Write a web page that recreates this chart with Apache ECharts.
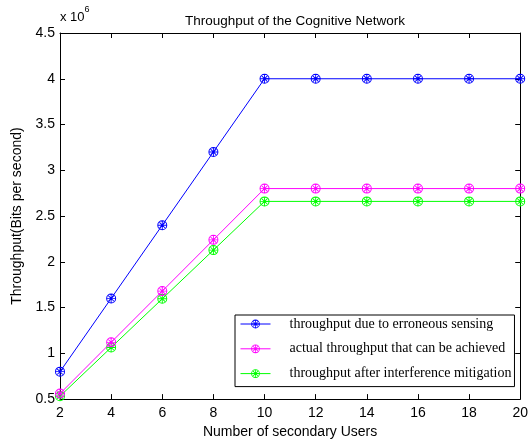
<!DOCTYPE html>
<html><head><meta charset="utf-8">
<script src="https://cdn.jsdelivr.net/npm/echarts@6/dist/echarts.min.js"></script>
<style>html,body{margin:0;padding:0;background:#fff}#c{width:531px;height:444px}</style>
</head><body><div id="c"></div>
<script>
var users = [2, 4, 6, 8, 10, 12, 14, 16, 18, 20];
var erroneous = [0.8e6, 1.6e6, 2.4e6, 3.2e6, 4.0e6, 4.0e6, 4.0e6, 4.0e6, 4.0e6, 4.0e6];
var actual = [0.56e6, 1.12e6, 1.68e6, 2.24e6, 2.8e6, 2.8e6, 2.8e6, 2.8e6, 2.8e6, 2.8e6];
var mitigated = [0.532e6, 1.064e6, 1.596e6, 2.128e6, 2.66e6, 2.66e6, 2.66e6, 2.66e6, 2.66e6, 2.66e6];
var seriesNames = ['throughput due to erroneous sensing', 'actual throughput that can be achieved', 'throughput after interference mitigation'];
var seriesColors = ['#0000ff', '#ff00ff', '#00ff00'];
var yTicks = [0.5e6, 4.5e6, 0.5e6];

var marker = 'path://M-10,0 A10,10 0 1,0 10,0 A10,10 0 1,0 -10,0 Z M-8,0 A8,8 0 1,1 8,0 A8,8 0 1,1 -8,0 Z ' +
  'M-8,-0.9 H8 V0.9 H-8 Z M-0.9,-8 H0.9 V8 H-0.9 Z ' +
  'M-5.02,-6.29 L6.29,5.02 L5.02,6.29 L-6.29,-5.02 Z ' +
  'M-6.29,5.02 L5.02,-6.29 L6.29,-5.02 L-5.02,6.29 Z';

function pairs(vals) { return users.map(function (u, i) { return [u, vals[i]]; }); }
var allVals = [erroneous, actual, mitigated];
var font = 'Liberation Sans, Arial, sans-serif';

var chart = echarts.init(document.getElementById('c'), null, {renderer: 'canvas'});
chart.setOption({
  animation: false,
  backgroundColor: '#fff',
  title: {
    text: 'Throughput of the Cognitive Network', left: 290, textAlign: 'center', top: 9,
    textStyle: {fontFamily: font, fontSize: 13.5, fontWeight: 'normal', color: '#000'}
  },
  graphic: [{
    type: 'text', left: 60, top: 5,
    style: {
      text: '{a|x 10}{b|6}', fill: '#000',
      rich: {a: {fontFamily: font, fontSize: 13, fill: '#000', padding: [6, 0, 0, 0]}, b: {fontFamily: font, fontSize: 9, fill: '#000', verticalAlign: 'top'}}
    }
  }],
  grid: {left: 60, right: 9, top: 33, bottom: 41, containLabel: false},
  legend: {
    orient: 'vertical', left: 235, top: 315,
    backgroundColor: '#fff', borderColor: '#000', borderWidth: 1, borderRadius: 0,
    padding: [2, 3, 6, 5], itemWidth: 30, itemHeight: 11, itemGap: 10.8,
    lineStyle: {width: 1},
    data: seriesNames,
    textStyle: {fontFamily: 'Liberation Serif, Times New Roman, serif', fontSize: 14, color: '#000', padding: [0, 0, 0, 14]}
  },
  xAxis: [{
    type: 'value', min: users[0], max: users[users.length - 1], interval: 2,
    name: 'Number of secondary Users', nameLocation: 'middle', nameGap: 25,
    nameTextStyle: {fontFamily: font, fontSize: 14, color: '#000'},
    axisLine: {lineStyle: {color: '#000', width: 1}},
    axisTick: {inside: true, length: 5, lineStyle: {color: '#000'}},
    axisLabel: {fontFamily: font, fontSize: 14, color: '#000', margin: 7},
    splitLine: {show: false}
  }, {
    type: 'value', position: 'top', min: users[0], max: users[users.length - 1], interval: 2,
    axisLine: {show: true, lineStyle: {color: '#000', width: 1}},
    axisTick: {inside: true, length: 5, lineStyle: {color: '#000'}},
    axisLabel: {show: false}, splitLine: {show: false}
  }],
  yAxis: [{
    type: 'value', min: yTicks[0], max: yTicks[1], interval: yTicks[2],
    name: 'Throughput(Bits per second)', nameLocation: 'middle', nameGap: 35,
    nameTextStyle: {fontFamily: font, fontSize: 14, color: '#000'},
    axisLine: {show: true, lineStyle: {color: '#000', width: 1}},
    axisTick: {show: true, inside: true, length: 5, lineStyle: {color: '#000'}},
    axisLabel: {fontFamily: font, fontSize: 14, color: '#000', margin: 5, formatter: function (v) { return String(+(v / 1e6).toFixed(2)); }},
    splitLine: {show: false}
  }, {
    type: 'value', position: 'right', min: yTicks[0], max: yTicks[1], interval: yTicks[2],
    axisLine: {show: true, lineStyle: {color: '#000', width: 1}},
    axisTick: {show: true, inside: true, length: 5, lineStyle: {color: '#000'}},
    axisLabel: {show: false}, splitLine: {show: false}
  }],
  series: seriesNames.map(function (n, i) {
    return {
      name: n, type: 'line', data: pairs(allVals[i]),
      symbol: marker, symbolSize: 10, showSymbol: true,
      lineStyle: {color: seriesColors[i], width: 1},
      itemStyle: {color: seriesColors[i]},
      z: 3 - i
    };
  })
});
</script></body></html>
